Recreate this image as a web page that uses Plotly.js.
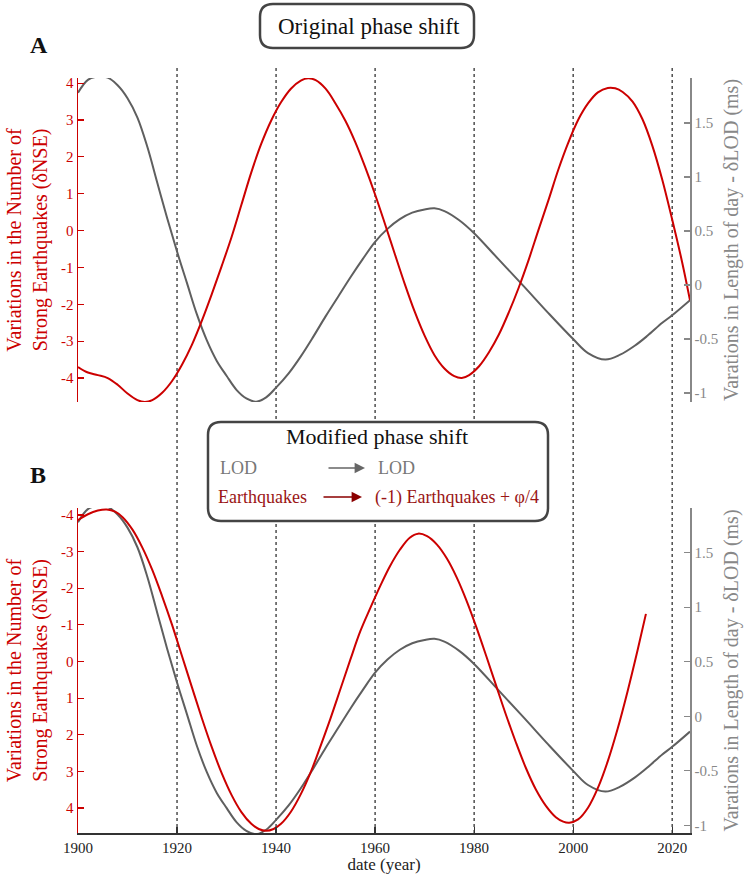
<!DOCTYPE html>
<html>
<head>
<meta charset="utf-8">
<script src="https://cdn.plot.ly/plotly-3.0.1.min.js"></script>
<style>
  html, body { margin: 0; padding: 0; background: #ffffff; }
  #chart { width: 754px; height: 878px; }
</style>
</head>
<body>
<div id="chart"></div>
<script>
// ---------------- DATA ----------------
// Length of day variations (ms) - same series in both panels
const lodYears = [1900,1902,1904,1906,1908,1910,1912,1914,1916,1918,1920,1922,1924,1926,1928,1930,1932,1934,1936,1938,1940,1942.5,1945,1947.5,1950,1952.5,1955,1957.5,1960,1962.5,1965,1967.5,1970,1972,1974,1977,1980,1985,1990,1995,2000,2003,2006.5,2009.5,2012.5,2015,2018,2020,2023.6];
const lodValues = [1.78,1.90,1.93,1.92,1.85,1.73,1.55,1.28,0.95,0.62,0.31,0.02,-0.27,-0.51,-0.70,-0.84,-0.97,-1.05,-1.08,-1.04,-0.95,-0.82,-0.66,-0.48,-0.29,-0.11,0.07,0.24,0.40,0.52,0.61,0.67,0.70,0.71,0.685,0.60,0.48,0.235,-0.01,-0.26,-0.50,-0.63,-0.69,-0.645,-0.56,-0.47,-0.35,-0.28,-0.14];

// Panel A: strong earthquakes variations (original phase)
const eqAYears = [1900,1902,1904,1906,1908,1910,1912,1913.5,1915,1917,1919,1921,1923,1925,1927,1929,1931,1933,1935,1937,1939,1941,1943,1945,1946.5,1948,1950,1952,1954,1956,1958,1960,1962,1964,1966,1968,1970,1972,1974,1976,1977.5,1979,1981,1983,1985,1987,1989,1991,1993,1995,1997,1999,2001,2003,2005,2007,2008.5,2010,2012,2014,2016,2018,2020,2022,2023.6];
const eqAValues = [-3.70,-3.85,-3.92,-4.00,-4.18,-4.42,-4.60,-4.65,-4.60,-4.40,-4.08,-3.64,-3.10,-2.45,-1.73,-0.97,-0.18,0.70,1.58,2.35,2.98,3.48,3.85,4.07,4.13,4.08,3.85,3.45,2.98,2.40,1.72,0.98,0.18,-0.64,-1.45,-2.20,-2.85,-3.38,-3.74,-3.95,-4.00,-3.92,-3.68,-3.30,-2.82,-2.22,-1.55,-0.80,0.02,0.82,1.65,2.38,3.00,3.45,3.75,3.87,3.86,3.76,3.50,3.02,2.30,1.38,0.30,-0.85,-1.89];

// Panel B: (-1) earthquakes + phi/4 (modified phase)
const eqBYears = [1900,1902,1904,1905.8,1907.5,1909,1911,1913,1915,1917,1919,1921,1923,1925,1927,1929,1931,1933,1935,1936.5,1938,1939.5,1941,1943,1945,1947,1949,1951,1953,1955,1957,1959,1961,1963,1965,1967,1968.7,1970.5,1972.5,1974.5,1976.5,1978.5,1980.5,1982.5,1984.5,1986.5,1988.5,1990.5,1992.5,1994.5,1996.5,1998,1999.2,2001,2003,2005,2007,2009,2011,2013,2014.7];
const eqBValues = [-3.86,-4.02,-4.12,-4.15,-4.09,-3.94,-3.60,-3.11,-2.50,-1.78,-1.00,-0.15,0.70,1.54,2.33,3.04,3.64,4.11,4.43,4.57,4.62,4.57,4.43,4.10,3.62,3.02,2.30,1.55,0.75,-0.05,-0.82,-1.45,-2.05,-2.60,-3.05,-3.38,-3.49,-3.42,-3.19,-2.81,-2.29,-1.65,-0.92,-0.13,0.68,1.48,2.23,2.92,3.50,3.94,4.25,4.37,4.40,4.31,3.99,3.45,2.72,1.83,0.81,-0.30,-1.30];

// Ticks and labels
const yearTicks = [1900,1920,1940,1960,1980,2000,2020];
const markerYears = [1920,1940,1960,1980,2000,2020];
const eqTicks = [-4,-3,-2,-1,0,1,2,3,4];
const eqTickText = ['-4','-3','-2','-1','0','1','2','3','4'];
const lodTicks = [-1,-0.5,0,0.5,1,1.5];
const lodTickText = ['-1','-0.5','0','0.5','1','1.5'];

const eqTitle = 'Variations in the Number of<br>Strong Earthquakes (δNSE)';
const lodTitle = 'Varations in Length of day - δLOD (ms)';
const xTitle = 'date (year)';
const topTitle = 'Original phase shift';
const boxTitle = 'Modified phase shift';

// ---------------- STYLE / GEOMETRY ----------------
const W = 754, H = 878, ML = 78, MR = 64, MT = 78, MB = 45;
const PW = W - ML - MR, PH = H - MT - MB;
const px = v => (v - ML) / PW;
const py = v => (H - MB - v) / PH;
const FONT = 'Liberation Serif, Times New Roman, serif';
const RED = '#cc0000';
const DARKRED = '#9a1515';
const GRAY = '#5f5f5f';
const AXGRAY = '#888888';

function roundRect(x0, y0, x1, y1, r) {
  const P = (x, y) => px(x).toFixed(5) + ',' + py(y).toFixed(5);
  return 'M' + P(x0 + r, y0) + ' L' + P(x1 - r, y0) + ' Q' + P(x1, y0) + ' ' + P(x1, y0 + r) +
    ' L' + P(x1, y1 - r) + ' Q' + P(x1, y1) + ' ' + P(x1 - r, y1) +
    ' L' + P(x0 + r, y1) + ' Q' + P(x0, y1) + ' ' + P(x0, y1 - r) +
    ' L' + P(x0, y0 + r) + ' Q' + P(x0, y0) + ' ' + P(x0 + r, y0) + ' Z';
}

const lineStyle = c => ({ color: c, width: 2, shape: 'spline', smoothing: 1 });
const traces = [
  { x: lodYears, y: lodValues, xaxis: 'x', yaxis: 'y', mode: 'lines', line: lineStyle(GRAY), hoverinfo: 'skip' },
  { x: eqAYears, y: eqAValues, xaxis: 'x', yaxis: 'y2', mode: 'lines', line: lineStyle(RED), hoverinfo: 'skip' },
  { x: lodYears, y: lodValues, xaxis: 'x', yaxis: 'y3', mode: 'lines', line: lineStyle(GRAY), hoverinfo: 'skip' },
  { x: eqBYears, y: eqBValues, xaxis: 'x', yaxis: 'y4', mode: 'lines', line: lineStyle(RED), hoverinfo: 'skip' }
];

const lodAxis = (domain, range) => ({
  domain: domain, range: range, side: 'right', anchor: 'x',
  tickmode: 'array', tickvals: lodTicks, ticktext: lodTickText,
  ticks: 'inside', ticklen: 6, tickwidth: 1.2, tickcolor: AXGRAY,
  showline: true, linecolor: AXGRAY, linewidth: 1.5,
  showgrid: false, zeroline: false,
  tickfont: { family: FONT, size: 15, color: AXGRAY },
  title: { text: lodTitle, font: { family: FONT, size: 20, color: AXGRAY }, standoff: 6 }
});
const eqAxis = (over, range) => ({
  overlaying: over, side: 'left', anchor: 'x', range: range,
  tickmode: 'array', tickvals: eqTicks, ticktext: eqTickText,
  ticks: 'inside', ticklen: 6, tickwidth: 1.2, tickcolor: RED,
  showline: true, linecolor: RED, linewidth: 1.5,
  showgrid: false, zeroline: false,
  tickfont: { family: FONT, size: 15, color: RED },
  title: { text: eqTitle, font: { family: FONT, size: 20, color: RED }, standoff: 8 }
});

const shapes = markerYears.map(yr => ({
  type: 'line', xref: 'x', yref: 'paper', x0: yr, x1: yr, y0: 0, y1: py(68),
  line: { color: '#222222', width: 1.2, dash: 'dot' }, layer: 'below'
}));
shapes.push({ type: 'path', xref: 'paper', yref: 'paper', path: roundRect(260, 4, 474, 48, 13),
  line: { color: '#444444', width: 2.5 }, fillcolor: '#ffffff', layer: 'above' });
shapes.push({ type: 'path', xref: 'paper', yref: 'paper', path: roundRect(208, 422, 548, 521, 13),
  line: { color: '#444444', width: 2.5 }, fillcolor: '#ffffff', layer: 'above' });

const ann = (text, x, y, size, color, extra) => Object.assign({
  text: text, xref: 'paper', yref: 'paper', x: px(x), y: py(y),
  xanchor: 'center', yanchor: 'middle', showarrow: false,
  font: { family: FONT, size: size, color: color }
}, extra || {});

const annotations = [
  ann(topTitle, 369, 26, 23, '#111111'),
  ann('<b>A</b>', 39, 45, 24, '#111111'),
  ann('<b>B</b>', 38, 475, 24, '#111111'),
  ann(boxTitle, 377, 436, 22, '#111111'),
  ann('LOD', 238, 468, 18, '#777777'),
  ann('LOD', 396, 468, 18, '#777777'),
  ann('Earthquakes', 262, 497, 18, DARKRED),
  ann('(-1) Earthquakes + φ/4', 457, 497, 18, DARKRED),
  { xref: 'paper', yref: 'paper', x: px(365), y: py(468), ax: -38, ay: 0, text: '',
    showarrow: true, arrowhead: 2, arrowsize: 1.3, arrowwidth: 1.6, arrowcolor: '#666666' },
  { xref: 'paper', yref: 'paper', x: px(362), y: py(497), ax: -40, ay: 0, text: '',
    showarrow: true, arrowhead: 2, arrowsize: 1.3, arrowwidth: 1.6, arrowcolor: '#8b0000' }
];

const layout = {
  width: W, height: H,
  margin: { l: ML, r: MR, t: MT, b: MB, pad: 0 },
  paper_bgcolor: '#ffffff', plot_bgcolor: '#ffffff',
  showlegend: false, hovermode: false,
  xaxis: {
    domain: [0, 1], range: [1900, 2023.6], anchor: 'y3',
    tickmode: 'array', tickvals: yearTicks,
    ticks: 'inside', ticklen: 6, tickwidth: 1.2, tickcolor: '#333333',
    showline: true, linecolor: '#333333', linewidth: 1.5,
    showgrid: false, zeroline: false,
    tickfont: { family: FONT, size: 15, color: '#222222' },
    title: { text: xTitle, font: { family: FONT, size: 17, color: '#222222' }, standoff: 3 }
  },
  yaxis: lodAxis([py(402), 1], [-1.083, 1.917]),
  yaxis2: eqAxis('y', [-4.65, 4.14]),
  yaxis3: lodAxis([0, py(508)], [-1.07, 1.91]),
  yaxis4: eqAxis('y3', [4.68, -4.19]),
  shapes: shapes,
  annotations: annotations
};

Plotly.newPlot('chart', traces, layout, { displayModeBar: false, staticPlot: true });
</script>
</body>
</html>
